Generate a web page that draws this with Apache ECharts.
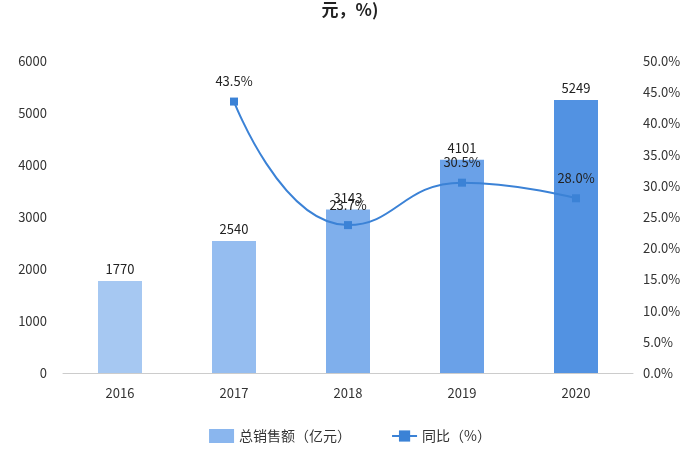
<!DOCTYPE html>
<html><head><meta charset="utf-8">
<script src="https://cdn.jsdelivr.net/npm/echarts@6/dist/echarts.min.js"></script>
<style>body{margin:0;background:#fff}#c{width:700px;height:470px}</style>
</head><body><div id="c"></div>
<script>
const years = ['2016', '2017', '2018', '2019', '2020']
const sales = [1770, 2540, 3143, 4101, 5249]
const growth = [null, 43.5, 23.7, 30.5, 28.0]
const barColors = ['#a6c8f2', '#95bdf0', '#7fafec', '#6aa1e8', '#5292e2']

const chart = echarts.init(document.getElementById('c'))
const font = '"Noto Sans CJK SC", sans-serif'
chart.setOption({
  animation: false,
  textStyle: { fontFamily: font },
  title: { text: '元，%)', left: 'center', top: -4, textStyle: { fontSize: 17, fontWeight: 'bold', color: '#222', fontFamily: font } },
  grid: { left: 63, right: 67, top: 61, bottom: 97 },
  legend: {
    bottom: 22, itemGap: 40, textStyle: { fontSize: 14, color: '#333' },
    data: [{ name: '总销售额（亿元）', icon: 'rect' }, { name: '同比（%）' }]
  },
  xAxis: {
    type: 'category', data: years,
    axisLine: { lineStyle: { color: '#ccc' } }, axisTick: { show: false },
    axisLabel: { fontSize: 13, color: '#333', margin: 14 }
  },
  yAxis: [
    { type: 'value', min: 0, max: 6000, interval: 1000, splitLine: { show: false },
      axisLabel: { fontSize: 13, color: '#333', margin: 16, formatter: v => String(v) } },
    { type: 'value', min: 0, max: 50, interval: 5, splitLine: { show: false },
      axisLabel: { fontSize: 13, color: '#333', formatter: v => v.toFixed(1) + '%', margin: 10 } }
  ],
  series: [
    { name: '总销售额（亿元）', type: 'bar', barWidth: 44, itemStyle: { color: '#8ab6ee' },
      data: sales.map((v, i) => ({ value: v, itemStyle: { color: barColors[i] } })),
      label: { show: true, position: 'top', fontSize: 13, color: '#222' } },
    { name: '同比（%）', type: 'line', yAxisIndex: 1, smooth: true, data: growth,
      symbol: 'rect', symbolSize: 8, lineStyle: { color: '#3b82d6', width: 2 }, itemStyle: { color: '#3b82d6' },
      label: { show: true, position: 'top', distance: 10, fontSize: 13, color: '#222', formatter: p => p.value.toFixed(1) + '%' } }
  ]
})
</script></body></html>
